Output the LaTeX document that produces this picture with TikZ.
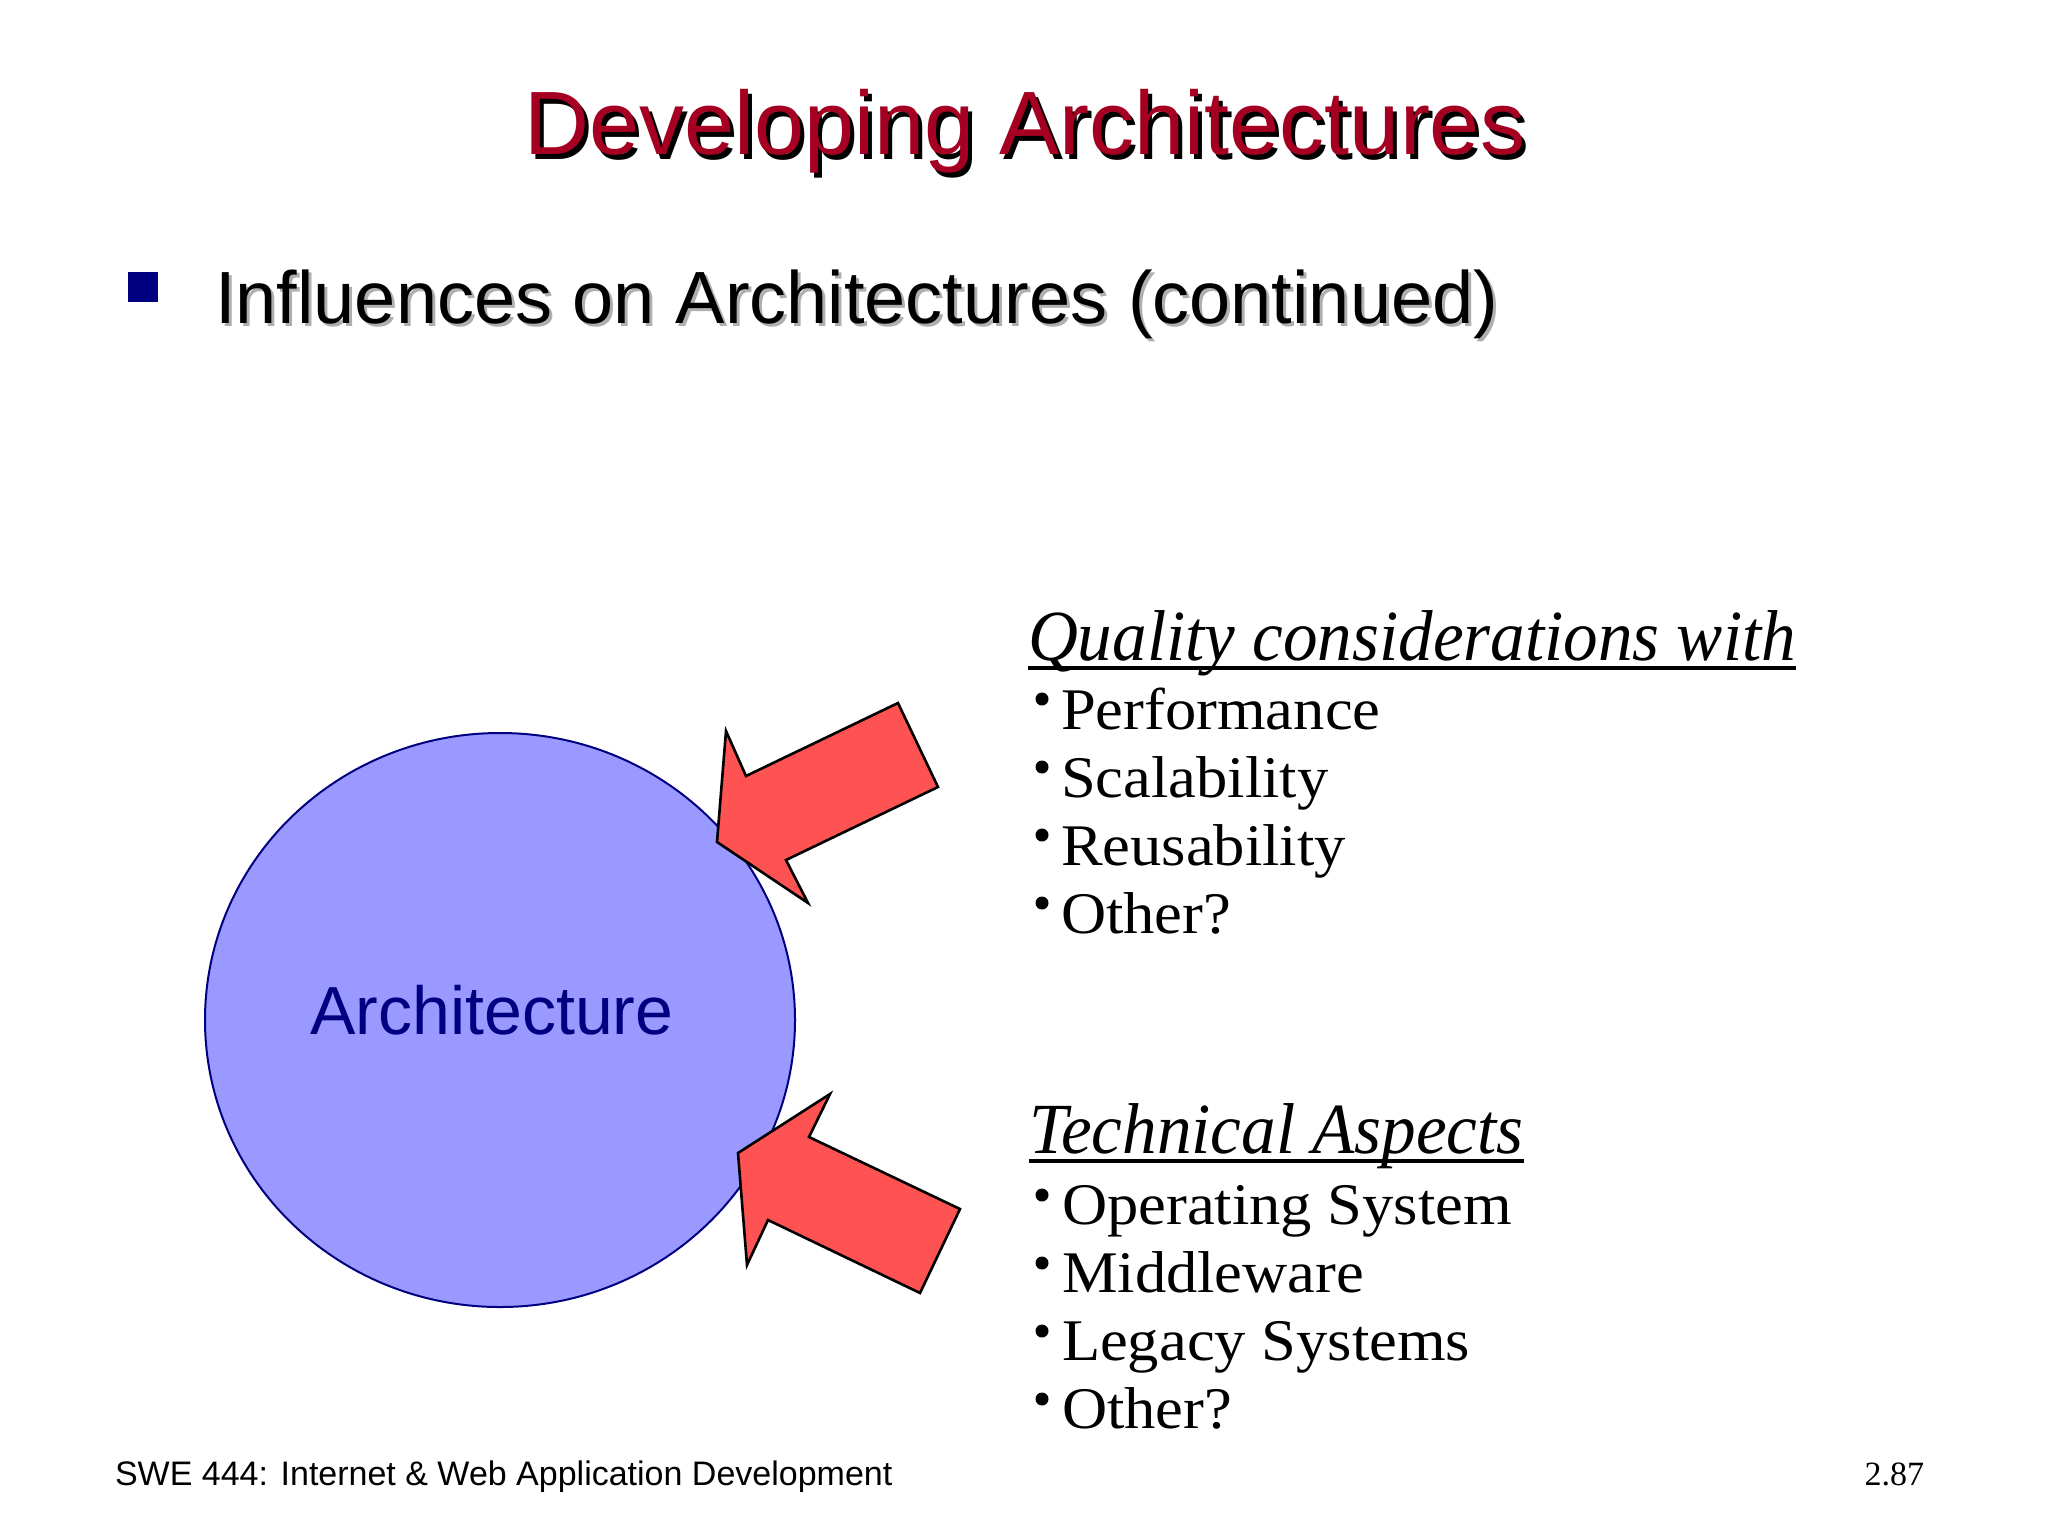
\documentclass[tikz,border=0pt]{standalone}
\usepackage{fontspec}
\newfontfamily\arialf{Liberation Sans}
\newfontfamily\timesf{Liberation Serif}
\newfontfamily\palf[FakeStretch=1.06]{Liberation Serif}
\newfontfamily\palhead[FakeStretch=0.96]{Liberation Serif}
\definecolor{titlered}{RGB}{165,0,33}
\definecolor{navyb}{RGB}{0,0,128}
\definecolor{circfill}{RGB}{153,153,255}
\definecolor{arrowred}{RGB}{255,82,82}
\definecolor{shadowgray}{RGB}{175,175,175}
\tikzset{
  lbl/.style={inner sep=0pt, outer sep=0pt},
  titletxt/.style={lbl, anchor=base, font=\arialf\fontsize{45}{54}\selectfont},
  subtxt/.style={lbl, anchor=base west, font=\arialf\fontsize{37}{44}\selectfont},
  headtxt/.style={lbl, anchor=base west, font=\palhead\itshape\fontsize{36}{44}\selectfont},
  itemtxt/.style={lbl, anchor=base west, font=\palf\fontsize{29.5}{34}\selectfont},
  bul/.style={circle, fill=black, minimum size=6.5pt, lbl},
  fatarrow/.style={fill=arrowred, draw=black, line width=1.3pt, line join=miter},
  uline/.style={line width=2pt}
}
\begin{document}
\begin{tikzpicture}[x=0.5pt,y=-0.5pt]
\useasboundingbox (0,0) rectangle (2048,1536);
\fill[white] (0,0) rectangle (2048,1536);
% title
\node[titletxt, text=black] (titleshadow) at (1029,159) {Developing Architectures};
\node[titletxt, text=titlered] (title) at (1025,155) {Developing Architectures};
% subtitle
\fill[navyb] (128,272) rectangle (158,302);
\node[subtxt, text=shadowgray] (subshadow) at (218,326) {Influences on Architectures (continued)};
\node[subtxt, text=black] (sub) at (215,323) {Influences on Architectures (continued)};
% circle
\draw[fill=circfill, draw=navyb, line width=1pt] (500,1020) ellipse [x radius=295, y radius=287];
\node[lbl, anchor=base, text=navyb, font=\arialf\fontsize{34}{40}\selectfont] (arch) at (492,1034) {Architecture};
% arrows
\draw[fatarrow] (717,842) -- (726,731) -- (746,776) -- (898,703) -- (938,787) -- (786,860) -- (808,903) -- cycle;
\draw[fatarrow] (738,1153) -- (830,1094) -- (809,1137) -- (960,1209) -- (920,1293) -- (768,1220) -- (747,1265) -- cycle;
% quality list
\node[headtxt] (qhead) at (1028,660) {Quality considerations with};
\draw[uline] ([yshift=-4pt]qhead.base west) -- ([yshift=-4pt]qhead.base east);
\node[bul] (b1) at (1042,699) {};
\node[itemtxt] (q1) at (1061,729) {Performance};
\node[bul] (b2) at (1042,767) {};
\node[itemtxt] (q2) at (1061,797) {Scalability};
\node[bul] (b3) at (1042,835) {};
\node[itemtxt] (q3) at (1061,865) {Reusability};
\node[bul] (b4) at (1042,903) {};
\node[itemtxt] (q4) at (1061,933) {Other?};
% technical list
\node[headtxt] (thead) at (1029,1153) {Technical Aspects};
\draw[uline] ([yshift=-4pt]thead.base west) -- ([yshift=-4pt]thead.base east);
\node[bul] (c1) at (1042,1195) {};
\node[itemtxt] (t1) at (1062,1224) {Operating System};
\node[bul] (c2) at (1042,1263) {};
\node[itemtxt] (t2) at (1062,1292) {Middleware};
\node[bul] (c3) at (1042,1331) {};
\node[itemtxt] (t3) at (1062,1360) {Legacy Systems};
\node[bul] (c4) at (1042,1399) {};
\node[itemtxt] (t4) at (1062,1428) {Other?};
% footer
\node[lbl, anchor=base west, font=\arialf\fontsize{17}{20}\selectfont] (foot) at (115,1485) {SWE 444: Internet \& Web Application Development};
\node[lbl, anchor=base east, font=\timesf\fontsize{17}{20}\selectfont] (pnum) at (1924,1485) {2.87};
\end{tikzpicture}
\end{document}
